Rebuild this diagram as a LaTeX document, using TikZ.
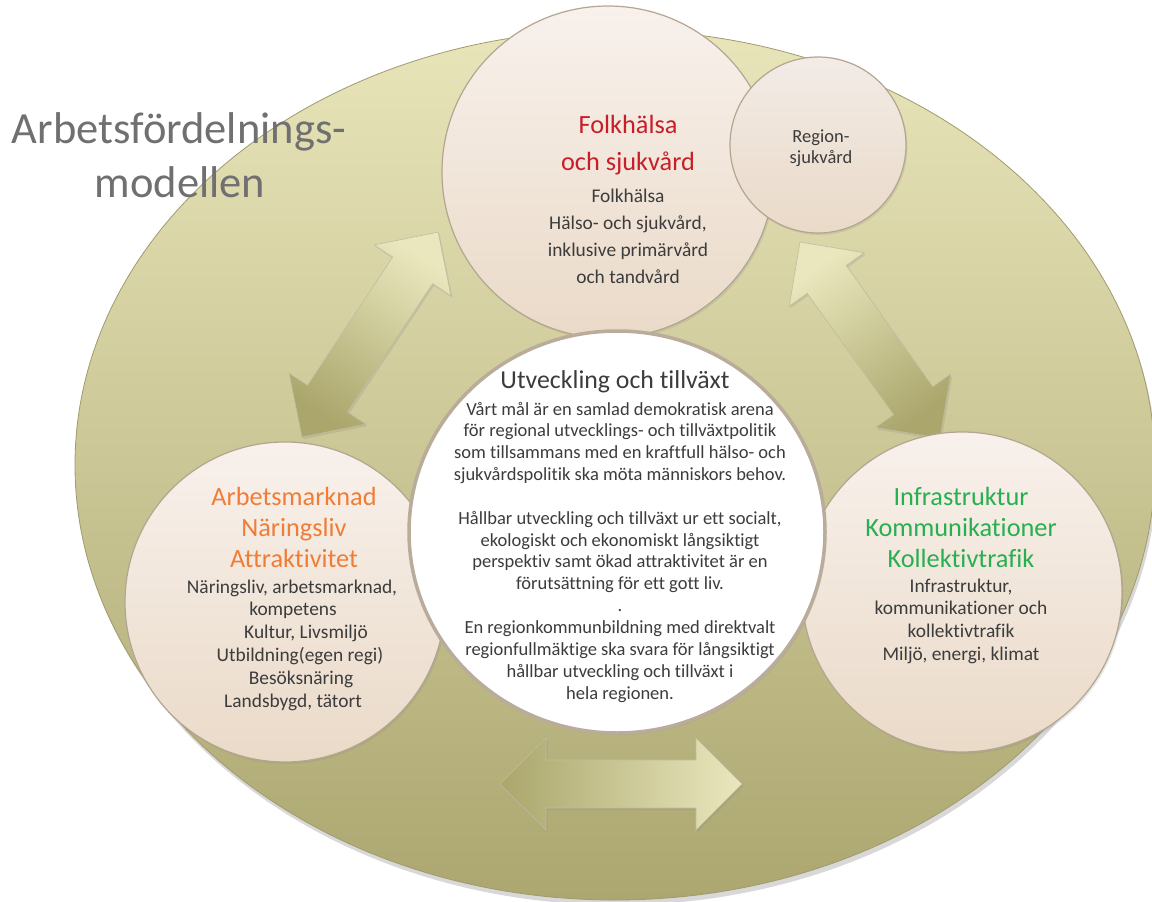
\documentclass[tikz,border=0pt]{standalone}
\usepackage{fontspec}
\setmainfont[Ligatures=NoCommon]{Carlito}
\usetikzlibrary{shapes.geometric,shadows}
\definecolor{bgtop}{RGB}{232,229,186}
\definecolor{bgbot}{RGB}{172,167,112}
\definecolor{bgline}{RGB}{160,155,110}
\definecolor{circtop}{RGB}{248,241,236}
\definecolor{circbot}{RGB}{234,218,200}
\definecolor{circline}{RGB}{180,165,145}
\definecolor{midline}{RGB}{185,172,155}
\definecolor{arlight}{RGB}{234,231,190}
\definecolor{ardark}{RGB}{170,166,108}
\definecolor{arline}{RGB}{150,145,100}
\definecolor{titlec}{RGB}{112,112,112}
\definecolor{bodyc}{RGB}{60,60,60}
\definecolor{redc}{RGB}{200,30,40}
\definecolor{orangec}{RGB}{240,125,55}
\definecolor{greenc}{RGB}{40,175,80}
\tikzset{
  circ/.style={circle, draw=circline, line width=1.2pt, top color=circtop, bottom color=circbot, inner sep=0pt,
    drop shadow={opacity=0.18, shadow xshift=1.5pt, shadow yshift=-2pt}},
  blockarrow/.style={draw=arline!60, line width=0.6pt, drop shadow={opacity=0.2, shadow xshift=1.5pt, shadow yshift=-2pt}},
  txt/.style={anchor=base, inner sep=0pt, text=bodyc},
  bodyf/.style={font=\fontsize{19.4}{22}\selectfont},
  headf/.style={font=\fontsize{26.3}{30}\selectfont},
  midf/.style={font=\fontsize{18.5}{21}\selectfont}
}
\begin{document}
\begin{tikzpicture}[x=1pt,y=-1pt]
\useasboundingbox (0,0) rectangle (1152,902);
\fill[white] (0,0) rectangle (1152,902);
\clip (0,0) rectangle (1152,902);
% background ellipse
\node[ellipse, minimum width=1080pt, minimum height=870pt, inner sep=0pt, draw=bgline, line width=0.8pt,
  top color=bgtop, bottom color=bgbot,
  drop shadow={opacity=0.3, shadow xshift=2pt, shadow yshift=-5pt}] (bg) at (615,465) {};
% block arrows
\begin{scope}[shift={(302,437)}, rotate=56.4]
  \path[blockarrow, top color=arlight, bottom color=ardark, shading angle=-33.6]
    (0,0) -- (46,46) -- (46,24) -- (200,24) -- (200,46) -- (246,0) -- (200,-46) -- (200,-24) -- (46,-24) -- (46,-46) -- cycle;
\end{scope}
\begin{scope}[shift={(800,242)}, rotate=-54.5]
  \path[blockarrow, top color=arlight, bottom color=ardark, shading angle=35.5]
    (0,0) -- (46,46) -- (46,24) -- (195,24) -- (195,46) -- (241,0) -- (195,-46) -- (195,-24) -- (46,-24) -- (46,-46) -- cycle;
\end{scope}
\begin{scope}[shift={(500,784)}]
  \path[blockarrow, left color=ardark, right color=arlight]
    (0,0) -- (46,46) -- (46,24) -- (196,24) -- (196,46) -- (242,0) -- (196,-46) -- (196,-24) -- (46,-24) -- (46,-46) -- cycle;
\end{scope}
% circles
\node[circ, minimum size=320pt] (left) at (285,602) {};
\node[circ, minimum size=320pt] (right) at (962,592) {};
\node[circ, minimum size=332pt] (top) at (608,172) {};
\node[circ, minimum size=176pt, top color=circtop!95!gray, bottom color=circbot] (reg) at (818,145) {};
\node[ellipse, minimum width=416pt, minimum height=402pt, inner sep=0pt, fill=white, draw=midline, line width=3.5pt,
  drop shadow={opacity=0.15, shadow xshift=1.5pt, shadow yshift=-2pt}] (mid) at (617,532) {};
% title
\node[txt, text=titlec, font=\fontsize{44.5}{50}\selectfont] (t1) at (179,143) {Arbetsfördelnings-};
\node[txt, text=titlec, font=\fontsize{44.5}{50}\selectfont] (t2) at (180,197) {modellen};
% top circle
\node[txt, headf, text=redc] (th1) at (628,133) {Folkhälsa};
\node[txt, headf, text=redc] (th2) at (628,170) {och sjukvård};
\foreach \t [count=\i from 0] in {Folkhälsa, {Hälso- och sjukvård,}, {inklusive primärvård}, {och tandvård}}
  \node[txt, bodyf] (tb\i) at (628,202+\i*27) {\t};
% region
\node[txt, font=\fontsize{18.5}{20}\selectfont] (r1) at (821,142) {Region-};
\node[txt, font=\fontsize{18.5}{20}\selectfont] (r2) at (821,163) {sjukvård};
% center
\node[txt, font=\fontsize{25.8}{30}\selectfont] (mh) at (615,388) {Utveckling och tillväxt};
\foreach \t [count=\i from 0] in {{Vårt mål är en samlad demokratisk arena}, {för regional utvecklings- och tillväxtpolitik}, {som tillsammans med en kraftfull hälso- och}, {sjukvårdspolitik ska möta människors behov.}}
  \node[txt, midf] (ma\i) at (620,415+\i*21.85) {\t};
\foreach \t [count=\i from 5] in {{Hållbar utveckling och tillväxt ur ett socialt,}, {ekologiskt och ekonomiskt långsiktigt}, {perspektiv samt ökad attraktivitet är en}, {förutsättning för ett gott liv.}, {.}, {En regionkommunbildning med direktvalt}, {regionfullmäktige ska svara för långsiktigt}, {hållbar utveckling och tillväxt i}, {hela regionen.}}
  \node[txt, midf] (mb\i) at (620,415+\i*21.85) {\t};
% left circle
\foreach \t [count=\i from 0] in {Arbetsmarknad, Näringsliv, Attraktivitet}
  \node[txt, headf, text=orangec] (lh\i) at (294,505+\i*31) {\t};
\foreach \x/\t [count=\i from 0] in {292/{Näringsliv, arbetsmarknad,}, 293/kompetens, 306/{Kultur, Livsmiljö}, 300/{Utbildning(egen regi)}, 301/Besöksnäring, 293/{Landsbygd, tätort}}
  \node[txt, bodyf] (lb\i) at (\x,593+\i*22.8) {\t};
% right circle
\foreach \t [count=\i from 0] in {Infrastruktur, Kommunikationer, Kollektivtrafik}
  \node[txt, headf, text=greenc] (rh\i) at (961,505+\i*31) {\t};
\foreach \t [count=\i from 0] in {{Infrastruktur,}, {kommunikationer och}, kollektivtrafik, {Miljö, energi, klimat}}
  \node[txt, bodyf] (rb\i) at (961,592+\i*22.7) {\t};
\end{tikzpicture}
\end{document}
